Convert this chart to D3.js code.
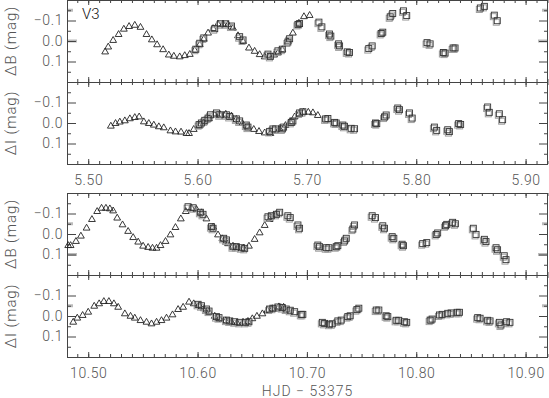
<!DOCTYPE html>
<html>
<head>
<meta charset="utf-8">
<script src="https://cdn.jsdelivr.net/npm/d3@7"></script>
<style>
body { margin: 0; background: #fff; }
text { font-family: Roboto, "Liberation Sans", sans-serif; font-weight: 300; fill: #555; }
</style>
</head>
<body>
<svg id="chart" width="549" height="398"></svg>
<script>
// x ranges of the two nights (HJD - 53375)
var nightOne = [5.4806, 5.9205];
var nightTwo = [10.4806, 10.9205];
var nightOneTicks = [5.50, 5.60, 5.70, 5.80, 5.90];
var nightTwoTicks = [10.50, 10.60, 10.70, 10.80, 10.90];
var magTicks = [-0.1, 0.0, 0.1];
var magMinor = [-0.15, -0.05, 0.05, 0.15];

// night 1, delta B : triangles (one telescope) and squares (other telescope)
var bOneTri = [[5.5155,0.051],[5.5183,0.027],[5.5228,-0.005],[5.5278,-0.034],[5.5326,-0.060],[5.5374,-0.073],
  [5.5426,-0.079],[5.5478,-0.069],[5.5533,-0.034],[5.5582,-0.008],[5.5630,0.016],[5.5685,0.040],[5.5737,0.066],
  [5.5783,0.072],[5.5837,0.075],[5.5883,0.069],[5.5929,0.063],[5.5974,0.043],[5.6020,0.016],[5.6057,-0.011],
  [5.6096,-0.041],[5.6142,-0.063],[5.6187,-0.085],[5.6233,-0.085],[5.6279,-0.082],[5.6324,-0.065],[5.6370,-0.028],
  [5.6416,0.000],[5.6470,0.032],[5.6522,0.048],[5.6568,0.064],[5.6614,0.075],[5.6659,0.072],[5.6700,0.066],
  [5.6735,0.056],[5.6775,0.040],[5.6826,0.000],[5.6872,-0.041],[5.6927,-0.089],[5.6973,-0.121],[5.7025,-0.127]];
var bOneSq = [[5.5984,0.040],[5.6020,0.011],[5.6057,-0.015],[5.6157,-0.060],[5.6209,-0.084],[5.6258,-0.084],
  [5.6310,-0.073],[5.6385,-0.021],[5.6416,-0.005],[5.6644,0.064],[5.6666,0.075],[5.6735,0.048],[5.6775,0.040],
  [5.6826,0.005],[5.6842,-0.011],[5.6918,-0.081],[5.6933,-0.085],[5.7110,-0.092],[5.7137,-0.069],[5.7207,-0.034],
  [5.7219,-0.024],[5.7290,0.014],[5.7299,0.024],[5.7369,0.053],[5.7390,0.056],[5.7566,0.037],[5.7597,0.024],
  [5.7679,-0.037],[5.7694,-0.043],[5.7762,-0.118],[5.7785,-0.134],[5.7883,-0.147],[5.7913,-0.124],[5.8099,0.008],
  [5.8127,0.014],[5.8248,0.056],[5.8264,0.059],[5.8337,0.034],[5.8355,0.034],[5.8586,-0.161],[5.8623,-0.169],
  [5.8714,-0.126],[5.8741,-0.099]];

// night 1, delta I
var iOneTri = [[5.5207,0.013],[5.5250,0.000],[5.5289,-0.007],[5.5335,-0.013],[5.5381,-0.023],[5.5426,-0.029],
  [5.5466,-0.032],[5.5509,-0.008],[5.5554,0.000],[5.5600,0.008],[5.5646,0.016],[5.5691,0.021],[5.5752,0.036],
  [5.5798,0.041],[5.5849,0.042],[5.5899,0.049],[5.5922,0.049],[5.5965,0.029],[5.6014,0.013],[5.6057,-0.003],
  [5.6105,-0.023],[5.6157,-0.040],[5.6203,-0.045],[5.6258,-0.045],[5.6310,-0.036],[5.6355,-0.020],[5.6410,0.000],
  [5.6461,0.016],[5.6514,0.029],[5.6562,0.039],[5.6614,0.046],[5.6666,0.049],[5.6749,0.025],[5.6804,0.010],
  [5.6848,-0.008],[5.6888,-0.032],[5.6927,-0.045],[5.6970,-0.055],[5.7013,-0.055],[5.7055,-0.052],[5.7100,-0.039]];
var iOneSq = [[5.6014,0.008],[5.6035,0.000],[5.6066,-0.013],[5.6096,-0.024],[5.6118,-0.040],[5.6173,-0.049],
  [5.6203,-0.040],[5.6264,-0.040],[5.6294,-0.032],[5.6355,-0.020],[5.6385,-0.010],[5.6446,0.010],[5.6461,0.020],
  [5.6659,0.041],[5.6689,0.029],[5.6714,0.029],[5.6775,0.029],[5.6787,0.020],[5.6857,-0.003],[5.6872,-0.010],
  [5.6933,-0.049],[5.6963,-0.055],[5.7171,-0.020],[5.7192,-0.022],[5.7253,-0.003],[5.7268,0.000],[5.7329,0.010],
  [5.7344,0.016],[5.7405,0.026],[5.7436,0.028],[5.7627,0.000],[5.7639,0.003],[5.7710,-0.029],[5.7725,-0.039],
  [5.7831,-0.073],[5.7847,-0.065],[5.7938,-0.049],[5.7963,-0.024],[5.8166,0.020],[5.8187,0.036],[5.8288,0.033],
  [5.8303,0.042],[5.8388,0.003],[5.8406,0.007],[5.8653,-0.078],[5.8668,-0.052],[5.8760,-0.045],[5.8790,-0.016]];

// night 2, delta B
var bTwoTri = [[10.4817,0.054],[10.4839,0.054],[10.4888,0.034],[10.4933,0.008],[10.4985,-0.031],[10.5034,-0.073],
  [10.5082,-0.112],[10.5122,-0.128],[10.5162,-0.128],[10.5198,-0.125],[10.5228,-0.115],[10.5265,-0.080],
  [10.5314,-0.047],[10.5365,-0.015],[10.5411,0.015],[10.5457,0.037],[10.5502,0.057],[10.5548,0.063],
  [10.5588,0.067],[10.5625,0.067],[10.5661,0.054],[10.5707,0.034],[10.5752,0.002],[10.5798,-0.034],
  [10.5847,-0.076],[10.5892,-0.112],[10.5944,-0.128],[10.5990,-0.122],[10.6036,-0.106],[10.6081,-0.076],
  [10.6142,-0.036],[10.6187,0.002],[10.6227,0.021],[10.6279,0.045],[10.6324,0.057],[10.6370,0.063],
  [10.6422,0.067],[10.6470,0.057],[10.6522,0.024],[10.6568,-0.008],[10.6614,-0.044],[10.6659,-0.073],
  [10.6714,-0.096]];
var bTwoSq = [[10.5913,-0.133],[10.5959,-0.128],[10.6026,-0.106],[10.6050,-0.096],[10.6127,-0.036],[10.6142,-0.028],
  [10.6239,0.021],[10.6264,0.029],[10.6324,0.062],[10.6355,0.062],[10.6401,0.067],[10.6431,0.070],
  [10.6644,-0.084],[10.6675,-0.089],[10.6721,-0.096],[10.6751,-0.106],[10.6826,-0.089],[10.6848,-0.080],
  [10.6918,-0.044],[10.6933,-0.028],[10.7100,0.054],[10.7116,0.062],[10.7177,0.067],[10.7201,0.067],
  [10.7268,0.062],[10.7283,0.057],[10.7344,0.034],[10.7360,0.021],[10.7420,-0.024],[10.7436,-0.044],
  [10.7597,-0.089],[10.7627,-0.080],[10.7694,-0.040],[10.7710,-0.028],[10.7780,0.013],[10.7795,0.021],
  [10.7871,0.050],[10.7883,0.057],[10.8059,0.047],[10.8096,0.042],[10.8182,0.002],[10.8196,-0.005],
  [10.8267,-0.040],[10.8279,-0.047],[10.8333,-0.057],[10.8358,-0.050],[10.8522,-0.028],[10.8547,0.002],
  [10.8623,0.026],[10.8638,0.037],[10.8730,0.067],[10.8744,0.077],[10.8805,0.106],[10.8821,0.125]];

// night 2, delta I
var iTwoTri = [[10.4863,0.028],[10.4900,0.008],[10.4949,-0.005],[10.5000,-0.021],[10.5055,-0.050],[10.5100,-0.062],
  [10.5143,-0.073],[10.5189,-0.073],[10.5235,-0.062],[10.5274,-0.045],[10.5335,-0.013],[10.5387,-0.001],
  [10.5426,0.008],[10.5478,0.020],[10.5533,0.028],[10.5579,0.036],[10.5625,0.028],[10.5670,0.020],
  [10.5716,0.008],[10.5771,-0.008],[10.5822,-0.034],[10.5868,-0.045],[10.5922,-0.070],[10.5965,-0.062],
  [10.6014,-0.054],[10.6057,-0.038],[10.6105,-0.021],[10.6157,-0.001],[10.6203,0.015],[10.6258,0.021],
  [10.6310,0.028],[10.6361,0.031],[10.6416,0.028],[10.6461,0.024],[10.6501,0.011],[10.6543,-0.001],
  [10.6593,-0.013],[10.6638,-0.029],[10.6684,-0.038],[10.6744,-0.047],[10.6787,-0.045]];
var iTwoSq = [[10.6005,-0.057],[10.6036,-0.050],[10.6081,-0.034],[10.6105,-0.024],[10.6173,0.003],[10.6196,0.008],
  [10.6264,0.020],[10.6294,0.024],[10.6340,0.028],[10.6385,0.031],[10.6440,0.031],[10.6470,0.028],
  [10.6659,-0.034],[10.6689,-0.038],[10.6735,-0.044],[10.6775,-0.041],[10.6811,-0.034],[10.6848,-0.028],
  [10.6888,-0.021],[10.6949,-0.008],[10.6963,-0.008],[10.7141,0.031],[10.7162,0.036],[10.7207,0.040],
  [10.7232,0.038],[10.7283,0.024],[10.7314,0.020],[10.7374,0.003],[10.7396,-0.001],[10.7457,-0.031],
  [10.7475,-0.038],[10.7634,-0.029],[10.7658,-0.029],[10.7725,-0.001],[10.7740,0.003],[10.7816,0.021],
  [10.7840,0.021],[10.7892,0.028],[10.7913,0.031],[10.8127,0.020],[10.8145,0.015],[10.8212,-0.005],
  [10.8237,-0.008],[10.8288,-0.013],[10.8319,-0.015],[10.8374,-0.018],[10.8395,-0.018],[10.8562,0.008],
  [10.8584,0.011],[10.8653,0.021],[10.8675,0.024],[10.8760,0.031],[10.8775,0.044],[10.8826,0.028],
  [10.8857,0.031]];

var svg = d3.select("#chart");
var left = 67, right = 548, panelH = 82;

var drawPanel = function(top, days, dayTicks, tri, sq, label, showDays, grayTicks)
{
    var x = d3.scaleLinear().domain(days).range([left, right]);
    var y = d3.scaleLinear().domain([-0.2, 0.2]).range([top, top + panelH]);
    var g = svg.append("g");

    var minorDays = d3.range(Math.round(days[0] * 100) + 1, Math.round(days[1] * 100) + 1)
        .map(function(d) { return d / 100; })
        .filter(function(d) { return d > days[0] && d < days[1]; });

    // faint grey doubled ticks left over from the overplot
    grayTicks.forEach(function(v)
    {
        var len = (magTicks.indexOf(v) >= 0) ? 10 : 6;
        g.append("line").attr("x1", left).attr("x2", left + len)
            .attr("y1", y(v)).attr("y2", y(v)).attr("stroke", "#bbb").attr("stroke-width", 3);
        g.append("line").attr("x1", right).attr("x2", right - len)
            .attr("y1", y(v)).attr("y2", y(v)).attr("stroke", "#bbb").attr("stroke-width", 3);
    });

    var axes = [
        g.append("g").attr("transform", "translate(0," + top + ")")
            .call(d3.axisTop(x).tickValues(minorDays).tickSize(-3).tickFormat("")),
        g.append("g").attr("transform", "translate(0," + top + ")")
            .call(d3.axisTop(x).tickValues(dayTicks).tickSize(-5).tickFormat("")),
        g.append("g").attr("transform", "translate(0," + (top + panelH) + ")")
            .call(d3.axisBottom(x).tickValues(minorDays).tickSize(-3).tickFormat("")),
        g.append("g").attr("transform", "translate(0," + (top + panelH) + ")")
            .call(d3.axisBottom(x).tickValues(dayTicks).tickSize(-5).tickPadding(11)
                .tickFormat(showDays ? d3.format(".2f") : "")),
        g.append("g").attr("transform", "translate(" + left + ",0)")
            .call(d3.axisLeft(y).tickValues(magMinor).tickSize(-4).tickFormat("")),
        g.append("g").attr("transform", "translate(" + left + ",0)")
            .call(d3.axisLeft(y).tickValues(magTicks).tickSize(-9).tickPadding(4).tickFormat(d3.format(".1f"))),
        g.append("g").attr("transform", "translate(" + right + ",0)")
            .call(d3.axisRight(y).tickValues(magMinor).tickSize(-4).tickFormat("")),
        g.append("g").attr("transform", "translate(" + right + ",0)")
            .call(d3.axisRight(y).tickValues(magTicks).tickSize(-9).tickFormat(""))
    ];
    axes.forEach(function(a)
    {
        a.select(".domain").remove();
        a.selectAll("line").attr("stroke", "#444");
        a.selectAll("text").attr("fill", "#555").style("font-size", "14px").style("letter-spacing", "0.6px");
    });

    g.append("rect")
        .attr("x", left + 0.5).attr("y", top + 0.5)
        .attr("width", right - left - 1).attr("height", panelH)
        .attr("fill", "none").attr("stroke", "#444");

    g.append("text")
        .attr("transform", "translate(16," + (top + panelH / 2) + ") rotate(-90)")
        .attr("text-anchor", "middle")
        .style("font-size", "15px").style("letter-spacing", "0.9px")
        .text(label);

    var triangle = d3.symbol().type(d3.symbolTriangle).size(20);

    g.append("g").selectAll("path")
        .data(tri).enter().append("path")
        .attr("d", triangle)
        .attr("transform", function(d) { return "translate(" + x(d[0]) + "," + (y(d[1]) + 0.5) + ")"; })
        .attr("fill", "none").attr("stroke", "#222").attr("stroke-width", 0.9);

    // each square is plotted twice, grey and black, a little apart
    g.append("g").selectAll("rect")
        .data(sq).enter().append("rect")
        .attr("x", function(d) { return x(d[0]) - 3 - 1; })
        .attr("y", function(d) { return y(d[1]) - 3 + 1.5; })
        .attr("width", 6).attr("height", 6)
        .attr("fill", "none").attr("stroke", "#a0a0a0").attr("stroke-width", 1);
    g.append("g").selectAll("rect")
        .data(sq).enter().append("rect")
        .attr("x", function(d) { return x(d[0]) - 3; })
        .attr("y", function(d) { return y(d[1]) - 3; })
        .attr("width", 6).attr("height", 6)
        .attr("fill", "none").attr("stroke", "#333").attr("stroke-width", 0.9);
};

drawPanel(0, nightOne, nightOneTicks, bOneTri, bOneSq, "ΔB (mag)", false, [-0.15, 0.0]);
drawPanel(82, nightOne, nightOneTicks, iOneTri, iOneSq, "ΔI (mag)", true, []);
drawPanel(193, nightTwo, nightTwoTicks, bTwoTri, bTwoSq, "ΔB (mag)", false, [-0.05, 0.1]);
drawPanel(275, nightTwo, nightTwoTicks, iTwoTri, iTwoSq, "ΔI (mag)", true, [-0.05]);

svg.append("text")
    .attr("x", 82).attr("y", 19)
    .style("font-size", "15px").style("fill", "#111")
    .text("V3");

svg.append("text")
    .attr("x", (left + right) / 2).attr("y", 396)
    .attr("text-anchor", "middle")
    .style("font-size", "14px").style("letter-spacing", "1px")
    .text("HJD − 53375");
</script>
</body>
</html>
